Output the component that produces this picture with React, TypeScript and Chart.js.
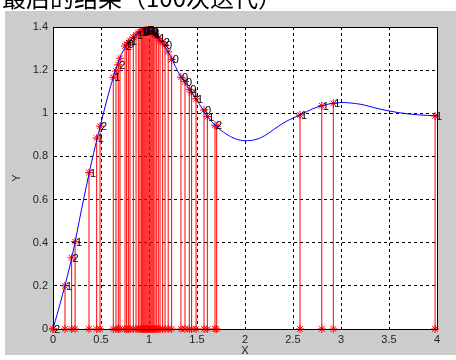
import React, { useEffect, useRef } from 'react';
import { Chart, registerables } from 'chart.js';

Chart.register(...registerables);

const titleText = '最后的结果（100次迭代）';
const xAxisTitle = 'X';
const yAxisTitle = 'Y';

const xTicks = [0, 0.5, 1, 1.5, 2, 2.5, 3, 3.5, 4];
const yTicks = [0, 0.2, 0.4, 0.6, 0.8, 1, 1.2, 1.4];

// blue curve
const curveX = [0, 0.1, 0.2, 0.3, 0.4, 0.5, 0.6, 0.7, 0.8, 0.9, 1.0, 1.1, 1.2, 1.3, 1.4, 1.5, 1.6, 1.7, 1.8, 1.9, 2.0, 2.1, 2.2, 2.3, 2.4, 2.5, 2.6, 2.7, 2.8, 2.9, 3.0, 3.2, 3.4, 3.6, 3.8, 4.0];
const curveY = [0, 0.16, 0.34, 0.56, 0.77, 0.955, 1.125, 1.26, 1.335, 1.375, 1.385, 1.345, 1.285, 1.195, 1.125, 1.06, 0.99, 0.94, 0.905, 0.882, 0.873, 0.877, 0.895, 0.925, 0.955, 0.978, 0.998, 1.02, 1.035, 1.045, 1.05, 1.042, 1.02, 1.003, 0.993, 0.988];

// sampled points (stems)
const sampleX = [0, 0.125, 0.194, 0.23, 0.375, 0.455, 0.49, 0.628, 0.656, 0.68, 0.698, 0.75, 0.767, 0.785, 0.802, 0.837, 0.865, 0.889, 0.906,
  0.92, 0.93, 0.94, 0.95, 0.96, 0.97, 0.98, 0.99, 1.0, 1.01, 1.02, 1.03, 1.04, 1.05,
  1.0625, 1.08, 1.097, 1.115, 1.142, 1.167, 1.2, 1.236, 1.333, 1.375, 1.42, 1.444, 1.49, 1.573, 1.608, 1.6875, 1.705,
  2.573, 2.8, 2.92, 3.98];
const sampleY = [0, 0.2, 0.33, 0.405, 0.725, 0.885, 0.94, 1.167, 1.196, 1.225, 1.255, 1.312, 1.32, 1.328, 1.337, 1.352, 1.363, 1.372, 1.376,
  1.378, 1.38, 1.382, 1.383, 1.384, 1.385, 1.385, 1.385, 1.384, 1.382, 1.38, 1.377, 1.374, 1.37,
  1.366, 1.357, 1.347, 1.337, 1.33, 1.317, 1.285, 1.25, 1.167, 1.147, 1.111, 1.095, 1.067, 1.015, 0.985, 0.945, 0.94,
  0.992, 1.035, 1.046, 0.988];
const sampleLabels = ['2', '1', '2', '1', '1', '1', '2', '1', '', '2', '', '2', '0', '', '1', '', '1', '', '1',
  '1', '0', '2', '1', '1', '0', '2', '1', '1', '1', '0', '2', '1', '1',
  '', '', '1', '', '2', '0', '', '0', '0', '0', '0', '1', '1', '0', '1', '2', '',
  '1', '1', '1', '1'];

const FONT = '"Liberation Sans", Arial, sans-serif';

export default function App() {
  const canvasRef = useRef<HTMLCanvasElement | null>(null);

  useEffect(() => {
    const canvas = canvasRef.current;
    if (!canvas) return;

    const stemData: { x: number; y: number | null }[] = [];
    sampleX.forEach((x, i) => {
      stemData.push({ x, y: 0 });
      stemData.push({ x, y: sampleY[i] });
      stemData.push({ x, y: null });
    });
    const curveData = curveX.map((x, i) => ({ x, y: curveY[i] }));

    const decor = {
      id: 'decor',
      beforeDraw(chart: any) {
        const { ctx, chartArea: a, width, height } = chart;
        ctx.save();
        ctx.fillStyle = '#ffffff';
        ctx.fillRect(0, 0, width, height);
        ctx.fillStyle = '#cccccc';
        ctx.fillRect(5, 11, width - 5, 344);
        ctx.fillStyle = '#ffffff';
        ctx.fillRect(a.left, a.top, a.right - a.left, a.bottom - a.top);
        ctx.restore();
      },
      afterDraw(chart: any) {
        const { ctx, chartArea: a } = chart;
        const xs = chart.scales.x;
        const ys = chart.scales.y;
        ctx.save();
        ctx.strokeStyle = '#000000';
        ctx.lineWidth = 1;
        ctx.setLineDash([]);
        ctx.strokeRect(a.left + 0.5, a.top + 0.5, a.right - a.left, a.bottom - a.top);
        ctx.fillStyle = '#000000';
        ctx.font = '11px ' + FONT;
        ctx.textAlign = 'left';
        ctx.textBaseline = 'middle';
        sampleX.forEach((x, i) => {
          const t = sampleLabels[i];
          if (!t) return;
          ctx.fillText(t, xs.getPixelForValue(x) + 1, ys.getPixelForValue(sampleY[i]) + 1);
        });
        ctx.fillStyle = '#222222';
        ctx.font = '11px ' + FONT;
        ctx.textAlign = 'center';
        ctx.textBaseline = 'middle';
        ctx.fillText(xAxisTitle, (a.left + a.right) / 2, 351);
        ctx.translate(17, (a.top + a.bottom) / 2);
        ctx.rotate(-Math.PI / 2);
        ctx.fillText(yAxisTitle, 0, 0);
        ctx.restore();
      },
    };

    const chart = new Chart(canvas, {
      type: 'line',
      data: {
        datasets: [
          {
            label: 'curve',
            data: curveData,
            borderColor: 'rgb(0,0,255)',
            borderWidth: 1,
            pointRadius: 0,
            cubicInterpolationMode: 'monotone',
            order: 0,
          },
          {
            label: 'samples',
            data: stemData,
            borderColor: 'rgb(255,0,0)',
            borderWidth: 1,
            pointStyle: 'star',
            pointRadius: 4,
            pointBorderColor: 'rgb(255,0,0)',
            pointBackgroundColor: 'rgb(255,0,0)',
            pointBorderWidth: 1,
            spanGaps: false,
            tension: 0,
            clip: false,
            order: 1,
          },
        ],
      },
      options: {
        responsive: false,
        animation: false,
        events: [],
        layout: { padding: { top: 27, right: 19, left: 0, bottom: 0 } },
        plugins: {
          legend: { display: false },
          title: { display: false },
          tooltip: { enabled: false },
        },
        scales: {
          x: {
            type: 'linear',
            min: 0,
            max: 4,
            afterBuildTicks: (s: any) => {
              s.ticks = xTicks.map((v) => ({ value: v }));
            },
            afterFit: (s: any) => {
              s.height = 31;
            },
            ticks: {
              autoSkip: false,
              maxRotation: 0,
              padding: 4,
              color: '#222222',
              font: { family: FONT, size: 11 },
              callback: (v: any) => String(Math.round(Number(v) * 10) / 10),
            },
            grid: { color: '#000000', lineWidth: 1, drawTicks: false },
            border: { color: '#000000', dash: [3, 3] },
          },
          y: {
            type: 'linear',
            min: 0,
            max: 1.4,
            afterBuildTicks: (s: any) => {
              s.ticks = yTicks.map((v) => ({ value: v }));
            },
            afterFit: (s: any) => {
              s.width = 53;
            },
            ticks: {
              autoSkip: false,
              padding: 5,
              color: '#222222',
              font: { family: FONT, size: 11 },
              callback: (v: any) => String(Math.round(Number(v) * 10) / 10),
            },
            grid: { color: '#000000', lineWidth: 1, drawTicks: false },
            border: { color: '#000000', dash: [3, 3] },
          },
        },
      },
      plugins: [decor],
    } as any);

    return () => {
      chart.destroy();
    };
  }, []);

  return (
    <div style={{ position: 'absolute', left: 0, top: 0, width: 456, height: 360 }}>
      <canvas ref={canvasRef} width={456} height={360} style={{ display: 'block', width: 456, height: 360 }} />
      <div
        style={{
          position: 'absolute',
          left: 0,
          top: 0,
          width: 456,
          height: 11,
          overflow: 'hidden',
        }}
      >
        <div
          style={{
            position: 'absolute',
            left: 2,
            top: -15,
            whiteSpace: 'nowrap',
            fontFamily: '"Noto Sans CJK SC", sans-serif',
            fontSize: 24,
            lineHeight: '24px',
            color: '#000000',
          }}
        >
          {titleText}
        </div>
      </div>
    </div>
  );
}
